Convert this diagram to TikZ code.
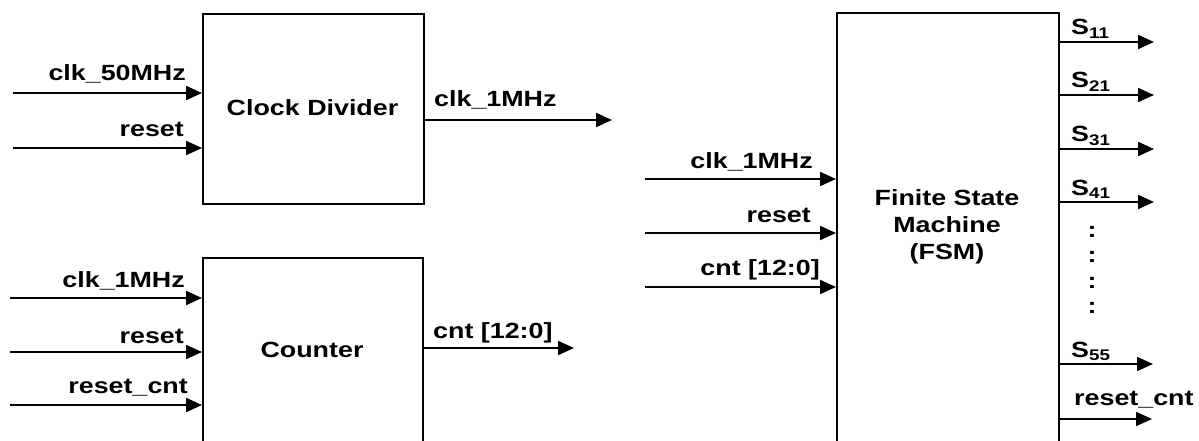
\documentclass[tikz,border=0pt]{standalone}
\usepackage{fontspec}
\setmainfont{Liberation Sans}
\usetikzlibrary{arrows.meta}
\newcommand{\lbl}[1]{\scalebox{1.22}[1]{\bfseries #1}}
\tikzset{
  blk/.style={draw, line width=2.2pt, inner sep=0pt, anchor=north west},
  sig/.style={line width=2pt, -{Triangle[length=16pt,width=14pt]}},
  txt/.style={inner sep=0pt, font=\fontsize{22}{27}\selectfont},
}
\begin{document}
\begin{tikzpicture}[x=1pt,y=-1pt]
\useasboundingbox (0,0) rectangle (1199,441);
\clip (0,0) rectangle (1199,441);
% blocks
\node[blk, minimum width=221pt, minimum height=190pt] (cd) at (202,13) {};
\node[txt] (cdt) at (312.5,108) {\lbl{Clock Divider}};
\node[blk, minimum width=220pt, minimum height=240pt] (ctr) at (202,257) {};
\node[txt] (ctrt) at (312,350) {\lbl{Counter}};
\node[blk, minimum width=222pt, minimum height=460pt] (fsm) at (836,12) {};
\node[txt, align=center] (fsmt) at (947,227) {\lbl{Finite State}\\\lbl{Machine}\\\lbl{(FSM)}};
% clock divider
\coordinate (a1) at (13,93);
\coordinate (a2) at (13,148);
\coordinate (a3) at (612,120);
\draw[sig] (a1) -- (a1 -| cd.west);
\draw[sig] (a2) -- (a2 -| cd.west);
\draw[sig] (a3 -| cd.east) -- (a3);
\node[txt, anchor=base east] (la1) at (186,81) {\lbl{clk\_50MHz}};
\node[txt, anchor=base east] (la2) at (184,137) {\lbl{reset}};
\node[txt, anchor=base west] (la3) at (434,107) {\lbl{clk\_1MHz}};
% counter
\coordinate (b1) at (10,298);
\coordinate (b2) at (10,352);
\coordinate (b3) at (10,405);
\coordinate (b4) at (574,348);
\draw[sig] (b1) -- (b1 -| ctr.west);
\draw[sig] (b2) -- (b2 -| ctr.west);
\draw[sig] (b3) -- (b3 -| ctr.west);
\draw[sig] (b4 -| ctr.east) -- (b4);
\node[txt, anchor=base east] (lb1) at (185,287) {\lbl{clk\_1MHz}};
\node[txt, anchor=base east] (lb2) at (184,343) {\lbl{reset}};
\node[txt, anchor=base east] (lb3) at (188,393) {\lbl{reset\_cnt}};
\node[txt, anchor=base west] (lb4) at (433,338) {\lbl{cnt [12:0]}};
% fsm inputs
\coordinate (c1) at (645,179);
\coordinate (c2) at (645,233);
\coordinate (c3) at (645,287);
\draw[sig] (c1) -- (c1 -| fsm.west);
\draw[sig] (c2) -- (c2 -| fsm.west);
\draw[sig] (c3) -- (c3 -| fsm.west);
\node[txt, anchor=base east] (lc1) at (813,168) {\lbl{clk\_1MHz}};
\node[txt, anchor=base east] (lc2) at (811,222) {\lbl{reset}};
\node[txt, anchor=base east] (lc3) at (820,275) {\lbl{cnt [12:0]}};
% fsm outputs
\coordinate (d1) at (1154,42);
\coordinate (d2) at (1154,95);
\coordinate (d3) at (1154,149);
\coordinate (d4) at (1154,202);
\coordinate (d5) at (1153,364);
\coordinate (d6) at (1152,419);
\foreach \p in {d1,d2,d3,d4,d5,d6} \draw[sig] (\p -| fsm.east) -- (\p);
\node[txt, anchor=base west] (ld1) at (1071,35) {\lbl{S\textsubscript{11}}};
\node[txt, anchor=base west] (ld2) at (1071,88) {\lbl{S\textsubscript{21}}};
\node[txt, anchor=base west] (ld3) at (1071,142) {\lbl{S\textsubscript{31}}};
\node[txt, anchor=base west] (ld4) at (1071,195) {\lbl{S\textsubscript{41}}};
\node[txt, anchor=base west] (ld5) at (1071,357) {\lbl{S\textsubscript{55}}};
\node[txt, anchor=base west] (ld6) at (1074,405) {\lbl{reset\_cnt}};
\node[txt, anchor=base] (dot1) at (1092,237) {\lbl{:}};
\node[txt, anchor=base] (dot2) at (1092,262) {\lbl{:}};
\node[txt, anchor=base] (dot3) at (1092,288) {\lbl{:}};
\node[txt, anchor=base] (dot4) at (1092,313) {\lbl{:}};
\end{tikzpicture}
\end{document}
